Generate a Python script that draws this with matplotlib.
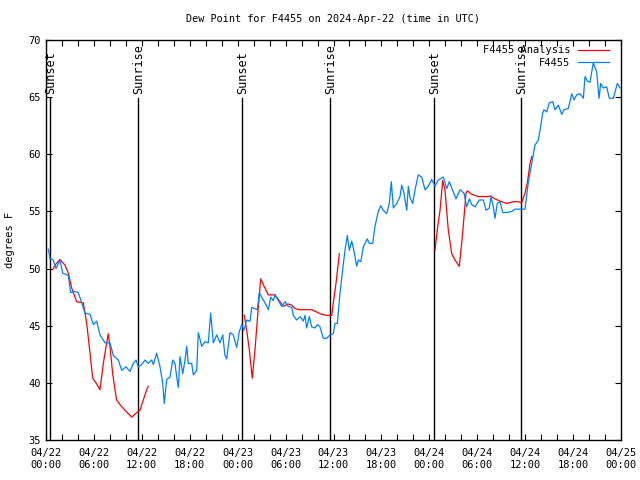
import numpy as np
import matplotlib
matplotlib.use("Agg")
import matplotlib.pyplot as plt

# hours since 2024-04-22 00:00 UTC
obs_hours = [0.29, 0.50, 0.91, 1.25, 1.75, 2.09, 2.79, 3.09, 3.63, 4.04, 4.47, 4.88, 5.51, 5.92,
             6.35, 6.76, 7.39, 8.01, 8.43, 9.05, 9.48, 10.02, 10.52, 10.93, 11.27, 11.56, 11.98,
             12.40, 12.81, 13.24, 13.44, 13.86, 14.28, 14.61, 14.81, 15.11, 15.53, 15.87, 16.15,
             16.37, 16.57, 16.78, 17.12, 17.41, 17.62, 17.82, 18.24, 18.45, 18.87, 19.07, 19.50,
             19.91, 20.32, 20.62, 20.95, 21.37, 21.79, 22.13, 22.41, 22.63, 23.04, 23.45, 23.88,
             24.21, 24.51, 24.79, 25.13, 25.55, 25.76, 26.46, 26.71, 27.01, 27.42, 27.84, 28.14,
             28.46, 28.68, 29.09, 29.51, 29.93, 30.34, 30.77, 30.97, 31.39, 31.81, 32.22, 32.43,
             32.64, 32.97, 33.27, 33.68, 33.97, 34.31, 34.72, 35.15, 35.56, 35.98, 36.19, 36.48,
             36.81, 37.15, 37.44, 37.73, 37.98, 38.28, 38.57, 38.91, 39.11, 39.41, 39.73, 40.23,
             40.48, 40.91, 41.20, 41.61, 41.91, 42.24, 42.66, 42.99, 43.24, 43.49, 43.92, 44.33,
             44.54, 44.83, 45.17, 45.37, 45.58, 45.92, 46.21, 46.62, 47.05, 47.46, 47.87, 48.30,
             48.71, 49.12, 49.75, 50.18, 50.50, 51.00, 51.34, 51.84, 52.34, 52.68, 53.01, 53.31,
             53.72, 54.26, 54.76, 55.10, 55.51, 55.72, 56.01, 56.22, 56.51, 56.85, 57.19, 57.69,
             58.32, 58.73, 59.36, 59.98, 60.39, 60.82, 61.23, 61.65, 61.86, 62.20, 62.36, 62.70,
             63.02, 63.45, 63.74, 64.15, 64.58, 64.86, 65.40, 65.83, 66.12, 66.45, 66.87, 67.29,
             67.49, 67.78, 68.12, 68.53, 68.96, 69.25, 69.46, 69.79, 70.21, 70.54, 71.04, 71.54,
             71.88]
obs_dewpt = [51.7, 50.9, 50.75, 50.0, 50.75, 49.6, 49.4, 47.9, 48.0, 47.9, 47.0, 46.1, 46.0, 45.1,
             45.4, 44.2, 43.5, 43.5, 42.4, 42.0, 41.1, 41.4, 41.0, 41.7, 42.0, 41.4, 41.6,
             42.0, 41.7, 42.0, 41.6, 42.6, 41.4, 40.0, 38.2, 40.3, 40.5, 42.0, 41.7,
             40.5, 39.6, 42.3, 40.8, 42.0, 43.2, 41.7, 41.7, 40.7, 41.1, 44.4, 43.2,
             43.6, 43.5, 46.1, 43.5, 44.2, 43.5, 44.2, 42.4, 42.1, 44.4, 44.2, 43.1,
             44.5, 45.1, 44.6, 45.5, 45.4, 46.6, 46.4, 47.9, 47.5, 47.0, 46.4, 47.5,
             47.2, 47.7, 47.2, 46.7, 47.1, 46.7, 46.6, 45.9, 45.5, 45.8, 45.4, 45.9,
             44.8, 45.8, 44.9, 44.8, 45.1, 44.9, 43.9, 43.9, 44.2, 44.3, 45.2, 45.2,
             47.8, 49.9, 51.6, 52.9, 51.6, 52.4, 51.5, 50.2, 50.75, 50.6, 51.9, 52.6,
             52.2, 52.2, 53.7, 55.0, 55.5, 55.1, 54.8, 55.7, 57.6, 55.3, 55.7, 56.3,
             57.3, 56.6, 55.1, 57.2, 56.2, 55.7, 56.9, 58.2, 58.0, 56.9, 57.2, 57.8,
             57.2, 57.75, 58.0, 57.0, 57.6, 56.7, 56.1, 56.9, 56.6, 55.4, 56.1, 55.6,
             55.4, 56.0, 56.0, 55.1, 55.3, 56.3, 55.4, 54.4, 55.7, 55.85, 54.9, 54.9,
             55.0, 55.2, 55.2, 55.2, 57.5, 59.2, 60.8, 61.25, 62.1, 63.6, 63.9, 63.7,
             64.5, 64.6, 63.9, 64.3, 63.5, 63.9, 64.0, 65.3, 64.75, 65.2, 65.3, 64.9,
             66.8, 66.4, 66.3, 68.0, 67.2, 64.9, 66.2, 65.8, 65.9, 64.9, 64.9, 66.2,
             65.8]

# analysis, gaps as nan
ana_hours = [0.84, 1.13, 1.75, 2.38, 2.79, 3.22, 3.63, 3.84, 4.67, 5.10, 5.51, 5.85, 6.35, 6.76,
             7.18, 7.48, 7.80, 8.01, 8.35, 8.64, 8.85, 9.27, 9.89, 10.73, 11.36, 11.77, 12.18,
             12.61, 12.81, 18.0,
             24.83, 25.13, 25.46, 25.83, 26.17, 26.46, 26.88, 27.21, 27.84, 28.68, 29.30, 29.71,
             30.34, 30.77, 31.18, 31.81, 33.27, 33.90, 34.52, 35.15, 35.78, 35.98, 36.31, 36.60,
             36.73, 42.0,
             48.71, 49.00, 49.34, 49.67, 49.96, 50.37, 50.80, 51.21, 51.75, 52.05, 52.34, 52.59,
             52.76, 53.31, 54.13, 55.18, 55.68, 56.22, 56.85, 57.69, 58.52, 59.14, 59.56, 59.98,
             60.27, 60.61, 60.82]
ana_dewpt = [49.9, 50.3, 50.8, 50.3, 49.6, 48.3, 47.5, 47.1, 47.0, 45.2, 42.6, 40.4, 39.9, 39.4,
             41.7, 43.0, 44.3, 43.2, 40.8, 39.4, 38.5, 38.1, 37.6, 37.0, 37.4, 37.6, 38.5,
             39.4, 39.7, np.nan,
             45.9, 44.6, 42.9, 40.4, 42.9, 45.5, 49.1, 48.6, 47.7, 47.7, 47.1, 46.7,
             46.9, 46.8, 46.5, 46.4, 46.4, 46.2, 46.0, 45.9, 45.9, 47.0, 48.7, 50.5,
             51.3, np.nan,
             51.6, 53.4, 55.1, 57.7, 56.9, 53.4, 51.3, 50.75, 50.2, 52.2, 54.5, 56.6,
             56.8, 56.5, 56.3, 56.3, 56.35, 56.1, 55.9, 55.7, 55.85, 55.85, 55.75, 56.6,
             57.5, 59.2, 59.8]

sun_hours = [0.50, 11.56, 24.57, 35.56, 48.62, 59.52]
sun_names = ["Sunset", "Sunrise", "Sunset", "Sunrise", "Sunset", "Sunrise"]

xtick_labels = ["04/22\n00:00", "04/22\n06:00", "04/22\n12:00", "04/22\n18:00",
                "04/23\n00:00", "04/23\n06:00", "04/23\n12:00", "04/23\n18:00",
                "04/24\n00:00", "04/24\n06:00", "04/24\n12:00", "04/24\n18:00",
                "04/25\n00:00"]

plt.rcParams['font.family'] = ['DejaVu Sans Mono']
plt.rcParams['font.size'] = 7.5

fig = plt.figure(figsize=(6.4, 4.8), dpi=100)
ax = fig.add_axes([46/640, 40/480, 575/640, 400/480])

for h, name in zip(sun_hours, sun_names):
    ax.plot([h, h], [35, 64.9], color="black", lw=1.0)
    ax.text(h + 0.1, 65.3, name, rotation=90, ha="center", va="bottom", fontsize=8.6)

ax.plot(ana_hours, ana_dewpt, color="#ff0000", lw=0.9, label="F4455 Analysis")
ax.plot(obs_hours, obs_dewpt, color="#0080ff", lw=0.9, label="F4455")

ax.set_xlim(0, 72)
ax.set_ylim(35, 70)
ax.set_xticks(np.arange(0, 73, 6))
ax.set_xticklabels(xtick_labels)
ax.set_xticks(np.arange(0, 73, 2), minor=True)
ax.set_yticks(np.arange(35, 71, 5))
ax.tick_params(which="both", direction="in", top=True, right=True, length=4, width=0.8)
ax.tick_params(axis="x", pad=6)
for s in ax.spines.values():
    s.set_linewidth(1.0)

ax.set_ylabel("degrees F", labelpad=10)
ax.set_title("Dew Point for F4455 on 2024-Apr-22 (time in UTC)", fontsize=7.3, pad=13)

ax.legend(loc="upper right", bbox_to_anchor=(0.995, 1.01), frameon=False, markerfirst=False,
          handlelength=3.0, handletextpad=0.7, labelspacing=0.25, fontsize=7.5)

fig.savefig("out.png", dpi=100)
